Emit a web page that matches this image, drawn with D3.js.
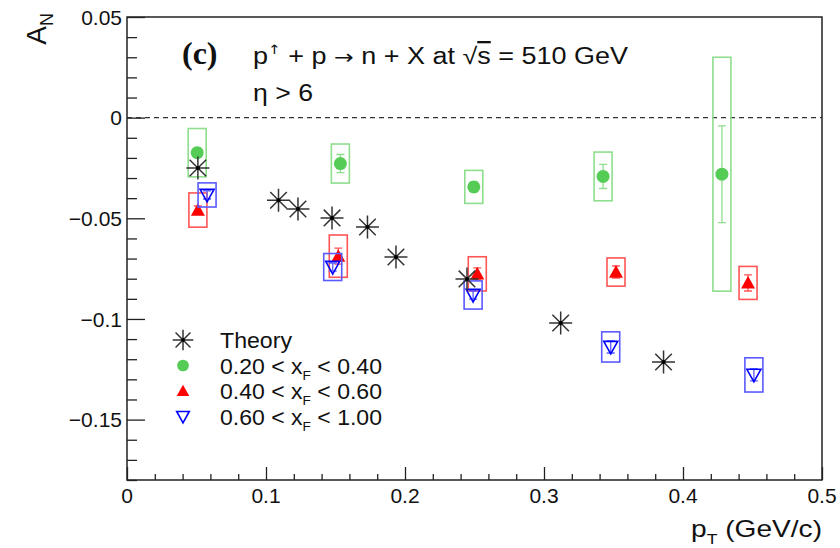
<!DOCTYPE html>
<html><head><meta charset="utf-8">
<script src="https://cdn.jsdelivr.net/npm/d3@7"></script>
<style>body{margin:0;background:#fff}svg{display:block}text{font-family:"Liberation Sans",Arial,sans-serif;fill:#111}</style>
</head><body>
<svg id="c" width="840" height="548"></svg>
<script>
// ---- data ----
const theoryPt = [0.051, 0.109, 0.123, 0.1475, 0.173, 0.1935, 0.2446, 0.312, 0.386];
const theoryAN = [-0.025, -0.041, -0.0454, -0.0498, -0.0543, -0.0692, -0.0801, -0.102, -0.1214];

const greenPt  = [0.0505, 0.1535, 0.2495, 0.3425, 0.428];
const greenAN  = [-0.0174, -0.0228, -0.0344, -0.0292, -0.0281];
const greenStat= [0.002, 0.0045, 0.0025, 0.006, 0.024];
const greenSys = [0.012, 0.0097, 0.0082, 0.0121, 0.0581];

const redPt    = [0.051, 0.152, 0.252, 0.3518, 0.4468];
const redAN    = [-0.0459, -0.0688, -0.0776, -0.0767, -0.0821];
const redStat  = [0.002, 0.004, 0.003, 0.003, 0.004];
const redSys   = [0.0085, 0.0105, 0.0085, 0.007, 0.0082];

const bluePt   = [0.0576, 0.148, 0.249, 0.348, 0.451];
const blueAN   = [-0.0384, -0.0742, -0.0881, -0.1139, -0.1278];
const blueStat = [0.002, 0.002, 0.002, 0.003, 0.003];
const blueSys  = [0.006, 0.0067, 0.007, 0.0075, 0.0085];

const xTicks = [0, 0.1, 0.2, 0.3, 0.4, 0.5];
const yTicks = [0.05, 0, -0.05, -0.1, -0.15];
const legendLabels = ["Theory", "0.20 < x_F < 0.40", "0.40 < x_F < 0.60", "0.60 < x_F < 1.00"];

// ---- layout ----
const L = 127, R = 822, T = 17, B = 480;
const x = d3.scaleLinear().domain([0, 0.5]).range([L, R]);
const y = d3.scaleLinear().domain([-0.18, 0.05]).range([B, T]);
const svg = d3.select("#c");

const GREEN = "#55cc55", GREENBOX = "#8ede8e";
const RED = "#ff0000", REDBOX = "#ff5555";
const BLUE = "#0000ff", BLUEBOX = "#5a5aff";

// frame
svg.append("rect").attr("x", L).attr("y", T).attr("width", R - L).attr("height", B - T)
  .attr("fill", "none").attr("stroke", "#222").attr("stroke-width", 1.5);

// y axis
const yAx = svg.append("g").attr("transform", `translate(${L},0)`)
  .call(d3.axisRight(y).tickValues(d3.range(-0.18, 0.0501, 0.01).map(v => +v.toFixed(3))).tickSize(10).tickFormat(""));
yAx.selectAll(".tick line").attr("stroke", "#222").attr("stroke-width", 1.3)
  .attr("x2", d => (Math.abs(Math.round(d * 100) % 5) === 0) ? 18 : 10);
yAx.select(".domain").remove();
svg.append("g").selectAll("text").data(yTicks).join("text")
  .attr("x", L - 5).attr("y", d => y(d)).attr("dy", "0.36em").attr("text-anchor", "end")
  .attr("font-size", 21).text(d => {
    if (d === 0) return "0";
    const s = Math.abs(d) === 0.1 ? "0.1" : Math.abs(d).toFixed(2);
    return (d < 0 ? "\u2212" : "") + s;
  });

// x axis
const xAx = svg.append("g").attr("transform", `translate(0,${B})`)
  .call(d3.axisTop(x).tickValues(d3.range(0, 0.5001, 0.02).map(v => +v.toFixed(3))).tickSize(6).tickFormat(""));
xAx.selectAll(".tick line").attr("stroke", "#222").attr("stroke-width", 1.3)
  .attr("y2", d => (Math.round(d * 100) % 10 === 0) ? -13 : -6);
xAx.select(".domain").remove();
svg.append("g").selectAll("text").data(xTicks).join("text")
  .attr("x", d => x(d)).attr("y", B + 23).attr("text-anchor", "middle")
  .attr("font-size", 21).text(d => d === 0 ? "0" : d.toString());

// axis titles
const xt = svg.append("text").attr("x", R).attr("y", 537).attr("text-anchor", "end").attr("font-size", 24)
  .attr("textLength", 131).attr("lengthAdjust", "spacingAndGlyphs");
xt.append("tspan").text("p");
xt.append("tspan").attr("font-size", 15).attr("dy", 7).text("T");
xt.append("tspan").attr("dy", -7).text(" (GeV/c)");

const yt = svg.append("text").attr("transform", "translate(46,13) rotate(-90)").attr("text-anchor", "end").attr("font-size", 28);
yt.append("tspan").text("A");
yt.append("tspan").attr("font-size", 18).attr("dy", 7).text("N");

// zero line
svg.append("line").attr("x1", L).attr("x2", R).attr("y1", y(0)).attr("y2", y(0))
  .attr("stroke", "#333").attr("stroke-width", 1.2).attr("stroke-dasharray", "5,4");

// labels
svg.append("text").attr("x", 182).attr("y", 64)
  .attr("font-size", 32).attr("font-weight", "bold").style("font-family", "'Liberation Serif','Times New Roman',serif").text("(c)");
const t1 = svg.append("text").attr("x", 253).attr("y", 64).attr("font-size", 23)
  .attr("textLength", 375).attr("lengthAdjust", "spacingAndGlyphs");
t1.append("tspan").text("p");
t1.append("tspan").attr("font-size", 13).attr("dy", -10).style("font-family", "'DejaVu Sans'").text("\u2191");
t1.append("tspan").attr("dy", 10).text(" + p ");
t1.append("tspan").style("font-family", "'DejaVu Sans'").attr("font-size", 20).text("\u2192");
t1.append("tspan").text(" n + X at ");
t1.append("tspan").text("\u221A");
t1.append("tspan").attr("text-decoration", "overline").text("s");
t1.append("tspan").text(" = 510 GeV");
svg.append("text").attr("x", 253).attr("y", 101).attr("font-size", 23)
  .attr("textLength", 60).attr("lengthAdjust", "spacingAndGlyphs").text("\u03B7 > 6");

// ---- series ----
function series(pts, an, stat, sys, boxColor, drawMarker) {
  const g = svg.append("g");
  const d = pts.map((p, i) => ({ p, a: an[i], s: stat[i], e: sys[i] }));
  g.selectAll("rect.sys").data(d).join("rect")
    .attr("x", v => x(v.p) - 9).attr("width", 18)
    .attr("y", v => y(v.a + v.e)).attr("height", v => y(v.a - v.e) - y(v.a + v.e))
    .attr("fill", "none").attr("stroke", boxColor).attr("stroke-width", 1.6);
  g.selectAll("path.stat").data(d).join("path")
    .attr("d", v => `M${x(v.p)},${y(v.a + v.s)}V${y(v.a - v.s)}M${x(v.p) - 4},${y(v.a + v.s)}h8M${x(v.p) - 4},${y(v.a - v.s)}h8`)
    .attr("stroke", boxColor).attr("stroke-width", 1.3).attr("fill", "none");
  d.forEach(v => drawMarker(g, x(v.p), y(v.a), 1));
}

function circleM(g, cx, cy, s) {
  g.append("circle").attr("cx", cx).attr("cy", cy).attr("r", 6.5 * s).attr("fill", GREEN);
}
function triUpM(g, cx, cy, s) {
  const h = 7 * s;
  g.append("path").attr("d", `M${cx},${cy - h}L${cx + h},${cy + h * 0.8}L${cx - h},${cy + h * 0.8}Z`).attr("fill", RED);
}
function triDownM(g, cx, cy, s) {
  const h = 7 * s;
  g.append("path").attr("d", `M${cx - h},${cy - h * 0.8}L${cx + h},${cy - h * 0.8}L${cx},${cy + h}Z`)
    .attr("fill", "none").attr("stroke", BLUE).attr("stroke-width", 1.6);
}
function starM(g, cx, cy, s) {
  const r = 11.5 * s, q = r * 0.72;
  g.append("path").attr("d", `M${cx - r},${cy}H${cx + r}M${cx},${cy - r}V${cy + r}M${cx - q},${cy - q}L${cx + q},${cy + q}M${cx - q},${cy + q}L${cx + q},${cy - q}`)
    .attr("stroke", "#333").attr("stroke-width", 1.5);
  g.append("circle").attr("cx", cx).attr("cy", cy).attr("r", 2 * s).attr("fill", "#000");
}

series(greenPt, greenAN, greenStat, greenSys, GREENBOX, circleM);
series(redPt, redAN, redStat, redSys, REDBOX, triUpM);
series(bluePt, blueAN, blueStat, blueSys, BLUEBOX, triDownM);
const tg = svg.append("g");
theoryPt.forEach((p, i) => starM(tg, x(p), y(theoryAN[i]), 1));

// ---- legend ----
const markers = [starM, circleM, triUpM, triDownM];
const legendW = [72, 162, 162, 162];
const lg = svg.append("g");
legendLabels.forEach((lab, i) => {
  const cy = 340 + i * 25.5;
  markers[i](lg, 183, cy, 0.9);
  const t = lg.append("text").attr("x", 220).attr("y", cy + 8).attr("font-size", 22)
    .attr("textLength", legendW[i]).attr("lengthAdjust", "spacingAndGlyphs");
  const parts = lab.split("x_F");
  t.append("tspan").text(parts[0]);
  if (parts.length > 1) {
    t.append("tspan").text("x");
    t.append("tspan").attr("font-size", 13).attr("dy", 6).text("F");
    t.append("tspan").attr("dy", -6).text(parts[1]);
  }
});
</script>
</body></html>
